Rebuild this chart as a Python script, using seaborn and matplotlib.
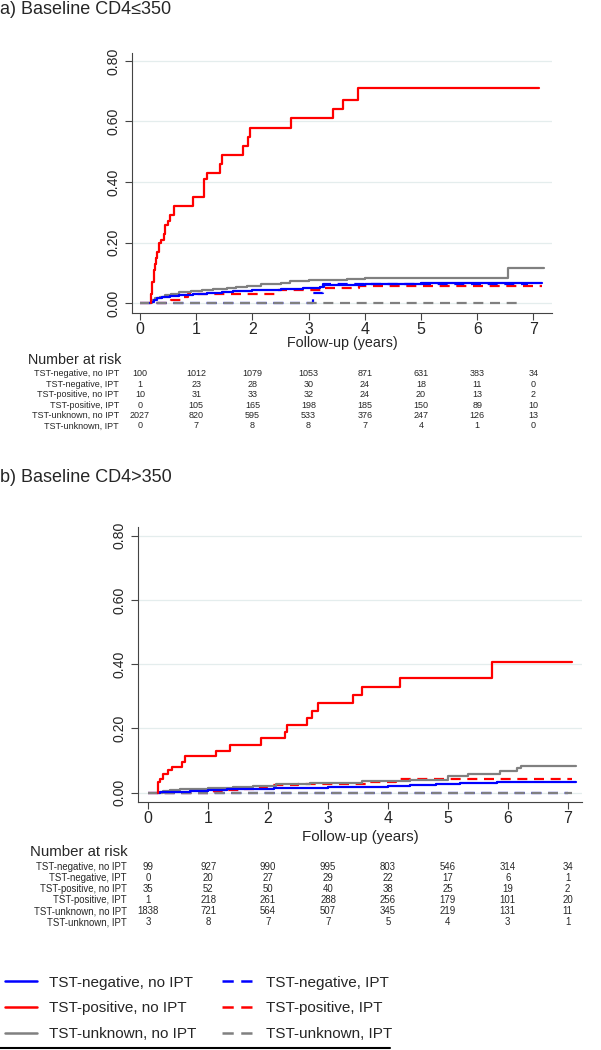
import pandas as pd
import seaborn as sns
import matplotlib.pyplot as plt
from matplotlib.transforms import blended_transform_factory
from matplotlib.lines import Line2D

# cumulative incidence curves, panel a (CD4<=350)
a_neg_noipt_t = [0.18, 0.20, 0.25, 0.30, 0.40, 0.53, 0.70, 0.95, 1.20, 1.45, 1.66, 2.00, 2.50, 2.90, 3.20, 3.27, 4.00, 5.00, 7.16]
a_neg_noipt_v = [0.0, 0.004, 0.010, 0.016, 0.020, 0.024, 0.027, 0.031, 0.034, 0.037, 0.040, 0.043, 0.048, 0.052, 0.055, 0.062, 0.064, 0.066, 0.066]
a_neg_ipt_t = [0.00, 3.07, 3.26, 6.90]
a_neg_ipt_v = [0.0, 0.033, 0.064, 0.064]
a_pos_noipt_t = [0.19, 0.20, 0.22, 0.24, 0.26, 0.28, 0.30, 0.33, 0.37, 0.42, 0.45, 0.50, 0.53, 0.60, 0.95, 1.13,
                 1.19, 1.42, 1.45, 1.84, 1.93, 1.96, 2.68, 3.43, 3.62, 3.87, 7.10]
a_pos_noipt_v = [0.0, 0.03, 0.07, 0.11, 0.13, 0.15, 0.17, 0.20, 0.21, 0.23, 0.26, 0.27, 0.29, 0.32, 0.35, 0.41,
                 0.43, 0.46, 0.49, 0.52, 0.55, 0.58, 0.61, 0.64, 0.67, 0.71, 0.71]
a_pos_ipt_t = [0.00, 0.55, 0.75, 0.85, 2.46, 3.26, 3.90, 7.16]
a_pos_ipt_v = [0.0, 0.012, 0.022, 0.031, 0.043, 0.052, 0.057, 0.057]
a_unk_noipt_t = [0.18, 0.22, 0.27, 0.35, 0.45, 0.55, 0.70, 0.90, 1.10, 1.30, 1.55, 1.70, 1.90, 2.15, 2.50, 2.67,
                 3.00, 3.55, 3.68, 4.00, 4.50, 6.55, 7.18]
a_unk_noipt_v = [0.0, 0.010, 0.016, 0.022, 0.028, 0.032, 0.037, 0.042, 0.045, 0.048, 0.050, 0.055, 0.058, 0.063,
                 0.066, 0.074, 0.076, 0.077, 0.081, 0.083, 0.085, 0.115, 0.115]
a_unk_ipt_t = [0.00, 6.70]
a_unk_ipt_v = [0.0, 0.0]

# panel b (CD4>350)
b_neg_noipt_t = [0.17, 0.20, 0.40, 0.70, 1.00, 1.31, 1.70, 2.09, 2.60, 3.00, 3.53, 4.00, 4.37, 4.80, 5.20, 5.82, 7.14]
b_neg_noipt_v = [0.0, 0.001, 0.003, 0.005, 0.007, 0.010, 0.012, 0.014, 0.016, 0.017, 0.019, 0.022, 0.025, 0.027,
                 0.029, 0.034, 0.034]
b_neg_ipt_t = [0.00, 7.00]
b_neg_ipt_v = [0.0, 0.0]
b_pos_noipt_t = [0.16, 0.17, 0.19, 0.24, 0.33, 0.39, 0.57, 0.61, 1.13, 1.36, 1.88, 2.29, 2.32, 2.65, 2.74, 2.84,
                 3.41, 3.57, 4.20, 5.74, 7.08]
b_pos_noipt_v = [0.0, 0.034, 0.044, 0.057, 0.071, 0.081, 0.096, 0.114, 0.131, 0.150, 0.169, 0.190, 0.210, 0.233,
                 0.255, 0.280, 0.304, 0.328, 0.356, 0.406, 0.406]
b_pos_ipt_t = [0.00, 1.10, 1.31, 1.60, 1.87, 1.98, 2.50, 3.64, 4.14, 7.08]
b_pos_ipt_v = [0.0, 0.004, 0.008, 0.012, 0.017, 0.024, 0.027, 0.034, 0.042, 0.042]
b_unk_noipt_t = [0.17, 0.25, 0.36, 0.53, 1.00, 1.42, 1.75, 2.14, 2.70, 3.37, 3.56, 4.00, 4.37, 5.01, 5.34, 5.87,
                 6.15, 6.23, 7.14]
b_unk_noipt_v = [0.0, 0.005, 0.008, 0.012, 0.014, 0.017, 0.022, 0.027, 0.029, 0.031, 0.035, 0.037, 0.040, 0.053,
                 0.058, 0.068, 0.076, 0.084, 0.084]
b_unk_ipt_t = [0.00, 7.08]
b_unk_ipt_v = [0.0, 0.0]

# number at risk
groups = ["TST-negative, no IPT", "TST-negative, IPT", "TST-positive, no IPT",
          "TST-positive, IPT", "TST-unknown, no IPT", "TST-unknown, IPT"]
years = [0, 1, 2, 3, 4, 5, 6, 7]
risk_a = [[100, 1012, 1079, 1053, 871, 631, 383, 34],
          [1, 23, 28, 30, 24, 18, 11, 0],
          [10, 31, 33, 32, 24, 20, 13, 2],
          [0, 105, 165, 198, 185, 150, 89, 10],
          [2027, 820, 595, 533, 376, 247, 126, 13],
          [0, 7, 8, 8, 7, 4, 1, 0]]
risk_b = [[99, 927, 990, 995, 803, 546, 314, 34],
          [0, 20, 27, 29, 22, 17, 6, 1],
          [35, 52, 50, 40, 38, 25, 19, 2],
          [1, 218, 261, 288, 256, 179, 101, 20],
          [1838, 721, 564, 507, 345, 219, 131, 11],
          [3, 8, 7, 7, 5, 4, 3, 1]]
yticks = [0.0, 0.2, 0.4, 0.6, 0.8]

sns.set_theme(style="white")
plt.rcParams['font.family'] = ['Liberation Sans', 'DejaVu Sans']

W, H = 601, 1050
fig = plt.figure(figsize=(W / 100, H / 100), dpi=100)


def fy(py):
    return 1 - py / H


colors = {"neg": "#0000ff", "pos": "#ff0000", "unk": "#808080"}
dash = (0, (4.5, 3))

panels = {
    "a": [("pos", True, a_pos_ipt_t, a_pos_ipt_v), ("neg", True, a_neg_ipt_t, a_neg_ipt_v),
          ("unk", True, a_unk_ipt_t, a_unk_ipt_v), ("unk", False, a_unk_noipt_t, a_unk_noipt_v),
          ("neg", False, a_neg_noipt_t, a_neg_noipt_v), ("pos", False, a_pos_noipt_t, a_pos_noipt_v)],
    "b": [("pos", True, b_pos_ipt_t, b_pos_ipt_v), ("neg", True, b_neg_ipt_t, b_neg_ipt_v),
          ("unk", True, b_unk_ipt_t, b_unk_ipt_v), ("unk", False, b_unk_noipt_t, b_unk_noipt_v),
          ("neg", False, b_neg_noipt_t, b_neg_noipt_v), ("pos", False, b_pos_noipt_t, b_pos_noipt_v)],
}

# axes boxes in pixels: left, right, top, bottom
layout = {
    "a": dict(box=(131.7, 552.3, 53, 312.7), xlim=(-0.148, 7.336), ylim=(-0.031, 0.826),
              title="a) Baseline CD4\u2264350", title_y=9, xlab_y=343, xlab_fs=10.3, nar_y=360, nar_fs=10.3,
              rows_y=[374, 384.3, 394.7, 405.3, 415.7, 426], lab_x=119, nar_x=28, risk=risk_a, fs=6.5),
    "b": dict(box=(138, 582, 526.7, 801.7), xlim=(-0.172, 7.24), ylim=(-0.028, 0.828),
              title="b) Baseline CD4>350", title_y=478, xlab_y=837, xlab_fs=10.9, nar_y=851.7, nar_fs=10.8,
              rows_y=[867.3, 878.3, 889, 900, 911, 922.3], lab_x=126.7, nar_x=30, risk=risk_b, fs=6.9),
}

for key in ["a", "b"]:
    L = layout[key]
    l, r, t, b = L["box"]
    ax = fig.add_axes([l / W, fy(b), (r - l) / W, (b - t) / H])
    for grp, ipt, tt, vv in panels[key]:
        df = pd.DataFrame({"year": tt, "cuminc": vv})
        sns.lineplot(data=df, x="year", y="cuminc", ax=ax, color=colors[grp], lw=1.6,
                     linestyle=dash if ipt else "-", drawstyle="steps-post",
                     estimator=None, sort=False, legend=False)
    ax.set_xlim(*L["xlim"])
    ax.set_ylim(*L["ylim"])
    ax.set_xticks(years)
    ax.set_yticks(yticks)
    ax.set_yticklabels([f"{v:.2f}" for v in yticks], rotation=90, va="center", fontsize=10.2)
    ax.tick_params(axis="x", labelsize=11.5, length=5, width=0.8, color="#444444", pad=2, bottom=True)
    ax.tick_params(axis="y", length=5, width=0.8, color="#444444", pad=3, left=True)
    ax.yaxis.grid(True, color="#e4eded", lw=0.9)
    ax.set_axisbelow(True)
    sns.despine(ax=ax)
    for s in ["left", "bottom"]:
        ax.spines[s].set_color("#444444")
        ax.spines[s].set_linewidth(0.8)
    ax.set_xlabel("")
    ax.set_ylabel("")
    fig.text((l + r) / 2 / W, fy(L["xlab_y"]), "Follow-up (years)", ha="center", va="center",
             fontsize=L["xlab_fs"])
    fig.text(0.0, fy(L["title_y"]), L["title"], ha="left", va="center", fontsize=13)
    fig.text(L["nar_x"] / W, fy(L["nar_y"]), "Number at risk", ha="left", va="center", fontsize=L["nar_fs"])
    tr = blended_transform_factory(ax.transData, fig.transFigure)
    for i, g in enumerate(groups):
        y = fy(L["rows_y"][i])
        fig.text(L["lab_x"] / W, y, g, ha="right", va="center", fontsize=L["fs"])
        for j, yr in enumerate(years):
            ax.text(yr, y, str(L["risk"][i][j]), transform=tr, ha="center", va="center",
                    fontsize=L["fs"], clip_on=False)

# legend
handles = []
for grp, ipt in [("neg", False), ("pos", False), ("unk", False), ("neg", True), ("pos", True), ("unk", True)]:
    handles.append(Line2D([], [], color=colors[grp], lw=1.8, linestyle=dash if ipt else "-"))
leg_labels = ["TST-negative, no IPT", "TST-positive, no IPT", "TST-unknown, no IPT",
              "TST-negative, IPT", "TST-positive, IPT", "TST-unknown, IPT"]
fig.legend(handles, leg_labels, ncol=2, loc="upper left", bbox_to_anchor=(5 / W, fy(975.5)),
           frameon=False, fontsize=11, handlelength=2.1, handletextpad=0.78, columnspacing=1.7,
           labelspacing=0.77, borderaxespad=0, borderpad=0)
fig.add_artist(Line2D([0, 390 / W], [fy(1047.7), fy(1047.7)], transform=fig.transFigure, color="black", lw=1.5))

fig.savefig("out.png", dpi=100)
